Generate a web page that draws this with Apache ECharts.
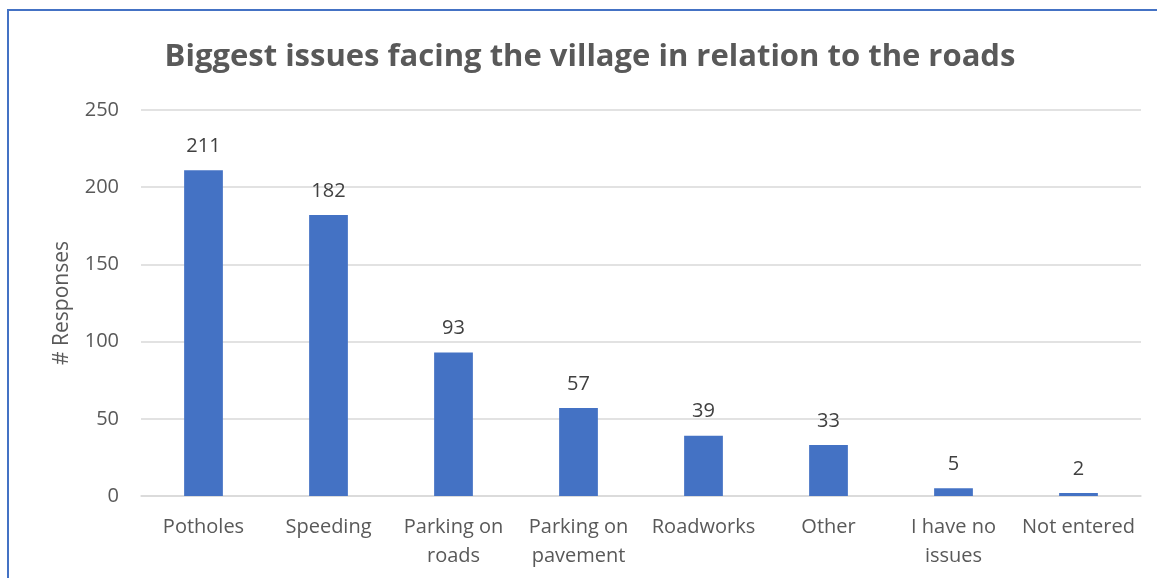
<!DOCTYPE html>
<html>
<head>
<meta charset="utf-8">
<style>
  html, body { margin: 0; padding: 0; background: #fff; }
  #chart { width: 1157px; height: 578px; }
</style>
<script src="https://cdn.jsdelivr.net/npm/echarts@6/dist/echarts.min.js"></script>
</head>
<body>
<div id="chart"></div>
<script>
// Survey responses: biggest road-related issues in the village
const categories = ['Potholes', 'Speeding', 'Parking on\nroads', 'Parking on\npavement', 'Roadworks', 'Other', 'I have no\nissues', 'Not entered'];
const responses = [211, 182, 93, 57, 39, 33, 5, 2];
const yTicks = { min: 0, max: 250, interval: 50 };

const textColor = '#595959';
const fontFamily = '"Open Sans", sans-serif';

const chart = echarts.init(document.getElementById('chart'), null, { renderer: 'canvas' });
chart.setOption({
  backgroundColor: '#fff',
  animation: false,
  title: {
    text: 'Biggest issues facing the village in relation to the roads',
    left: 585,
    textAlign: 'center',
    top: 37,
    textStyle: { color: textColor, fontSize: 31, fontWeight: 'bold', fontFamily }
  },
  grid: { left: 141, right: 16, top: 110, bottom: 82 },
  xAxis: {
    type: 'category',
    data: categories,
    axisLine: { show: true, lineStyle: { color: '#d9d9d9', width: 1.5 } },
    axisTick: { show: false },
    axisLabel: { color: textColor, fontSize: 20, fontFamily, margin: 17, lineHeight: 29, interval: 0 }
  },
  yAxis: {
    type: 'value',
    min: yTicks.min,
    max: yTicks.max,
    interval: yTicks.interval,
    name: '# Responses',
    nameLocation: 'middle',
    nameGap: 68,
    nameTextStyle: { color: textColor, fontSize: 21, fontFamily },
    axisLine: { show: false },
    axisTick: { show: false },
    axisLabel: { color: textColor, fontSize: 20, fontFamily, margin: 22 },
    splitLine: { lineStyle: { color: '#d9d9d9', width: 1.5 } }
  },
  series: [{
    type: 'bar',
    data: responses,
    barWidth: '31%',
    itemStyle: { color: '#4472C4' },
    label: {
      show: true,
      position: 'top',
      distance: 14,
      color: '#404040',
      fontSize: 20,
      fontFamily
    }
  }],
  graphic: [{
    type: 'rect',
    shape: { x: 8, y: 10, width: 1200, height: 700 },
    style: { fill: 'none', stroke: '#4472C4', lineWidth: 2 },
    silent: true
  }]
});
</script>
</body>
</html>
